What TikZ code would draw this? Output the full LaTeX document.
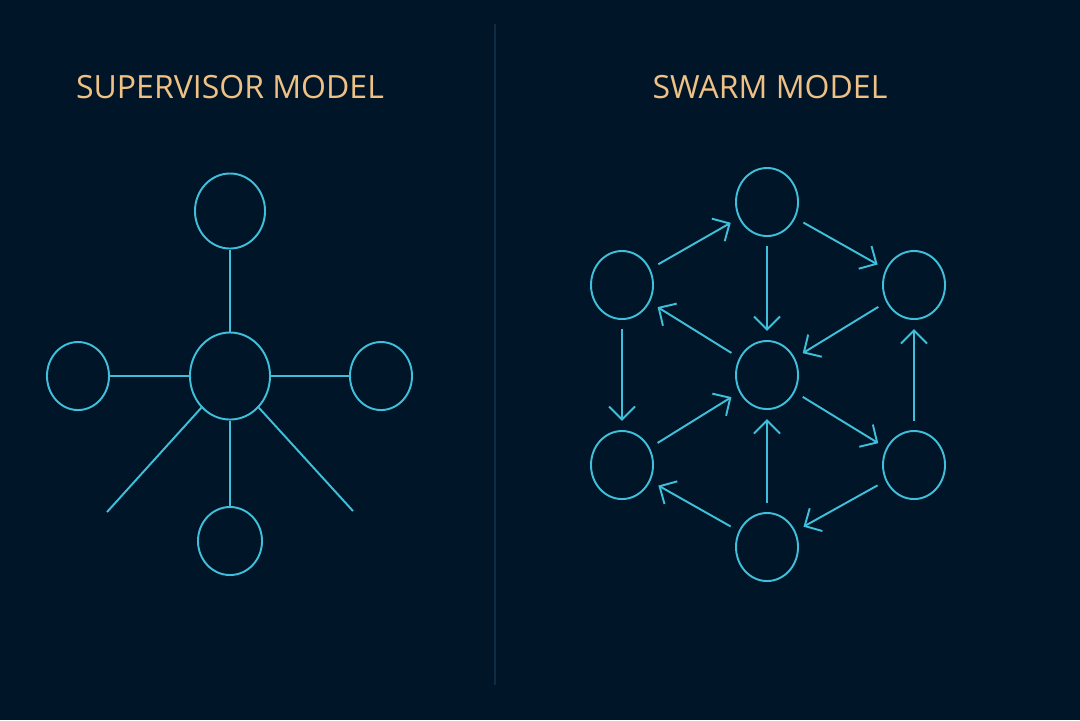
\documentclass[tikz,border=0pt]{standalone}
\usepackage{fontspec}
\setmainfont{Open Sans}
\usetikzlibrary{shapes.geometric,arrows.meta}
\definecolor{bgnavy}{HTML}{011528}
\definecolor{wire}{HTML}{3FBFD9}
\definecolor{heading}{HTML}{F0C185}
\definecolor{divider}{HTML}{112B42}

\begin{document}
\begin{tikzpicture}[x=0.01cm,y=-0.01cm,
  every node/.style={draw=wire,line width=0.55pt,ellipse,inner sep=0pt},
  agent/.style={minimum width=0.62cm,minimum height=0.68cm},
  label/.style={draw=none,rectangle,text=heading,font=\fontsize{9.1}{9.1}\selectfont},
  link/.style={draw=wire,line width=0.55pt},
  flow/.style={draw=wire,line width=0.55pt,-{Straight Barb[length=3.7pt,width=7.4pt]},
    shorten <=2.6pt,shorten >=2.6pt}]
\fill[bgnavy] (0,0) rectangle (1080,720);
\draw[divider,line width=0.45pt] (495,24) -- (495,685);

% supervisor model
\node (supt) at (230,87) [label] {SUPERVISOR MODEL};
\node (hub) at (230,376) [minimum width=0.80cm,minimum height=0.87cm] {};
\node (s1) at (230,211) [minimum width=0.70cm,minimum height=0.75cm] {};
\node (s2) at (78,376) [agent] {};
\node (s3) at (381,376) [agent] {};
\node (s4) at (230,541) [minimum width=0.64cm,minimum height=0.68cm] {};
\coordinate (e1) at (107,512);
\coordinate (e2) at (353,511);

\draw[link] (hub) -- (s1);
\draw[link] (hub) -- (s2);
\draw[link] (hub) -- (s3);
\draw[link] (hub) -- (s4);
\draw[link] (hub) -- (e1);
\draw[link] (hub) -- (e2);

% swarm model
\node (swt) at (770,87) [label] {SWARM MODEL};
\node (w0) at (767,375) [agent] {};
\node (w1) at (767,202) [agent] {};
\node (w2) at (622,285) [agent] {};
\node (w3) at (914,285) [agent] {};
\node (w4) at (622,465) [agent] {};
\node (w5) at (914,465) [agent] {};
\node (w6) at (767,547) [agent] {};

\draw[flow] (w2) -- (w1);
\draw[flow] (w1) -- (w3);
\draw[flow] (w1) -- (w0);
\draw[flow] (w3) -- (w0);
\draw[flow] (w0) -- (w2);
\draw[flow] (w2) -- (w4);
\draw[flow] (w5) -- (w3);
\draw[flow] (w4) -- (w0);
\draw[flow] (w0) -- (w5);
\draw[flow] (w6) -- (w0);
\draw[flow] (w6) -- (w4);
\draw[flow] (w5) -- (w6);
\end{tikzpicture}
\end{document}
